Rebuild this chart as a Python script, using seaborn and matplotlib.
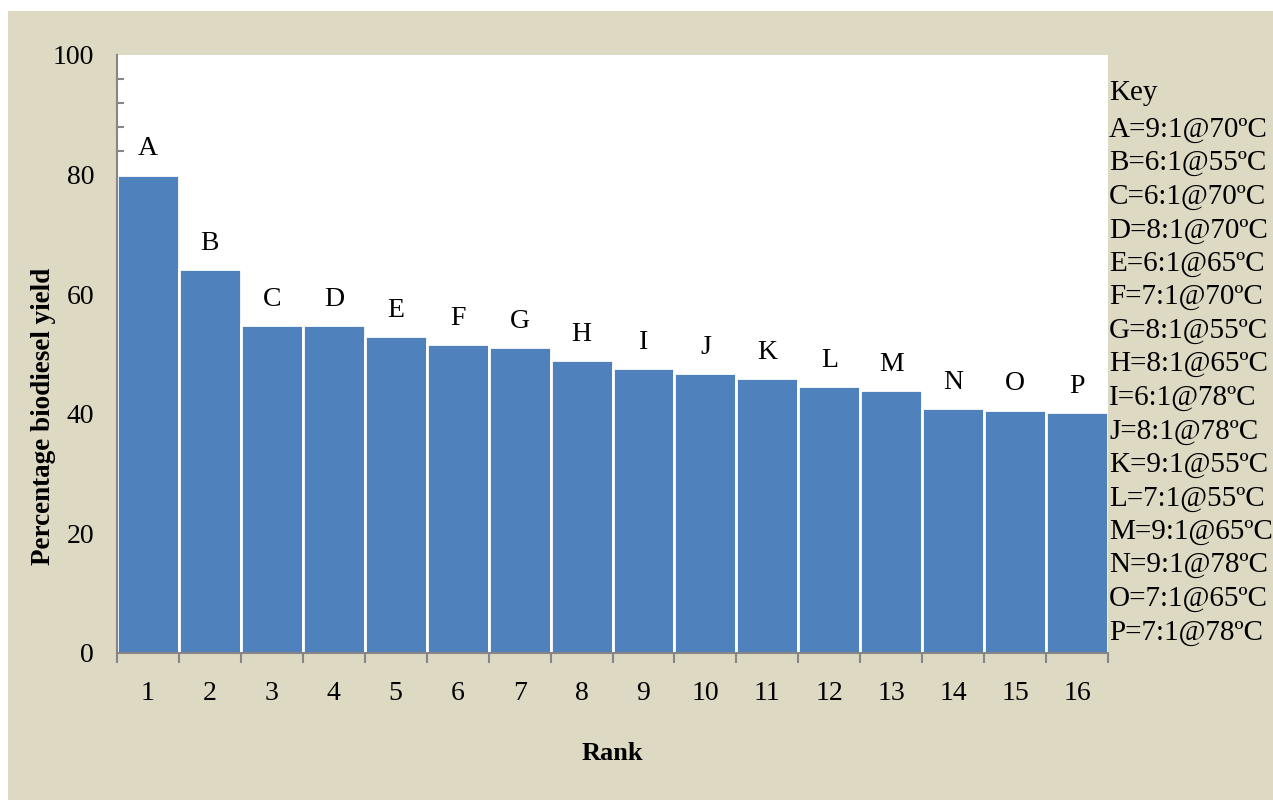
import matplotlib
matplotlib.use("Agg")
import matplotlib.pyplot as plt
from matplotlib.patches import Rectangle
from matplotlib.ticker import MultipleLocator
import seaborn as sns
import pandas as pd

# Ranked biodiesel yields (%) for each oil:methanol ratio / temperature run
ranks = [str(i) for i in range(1, 17)]
letters = list("ABCDEFGHIJKLMNOP")
yields = [80.0, 64.2, 54.8, 54.8, 53.0, 51.7, 51.2, 49.0,
          47.7, 46.8, 46.0, 44.6, 43.9, 41.0, 40.7, 40.3]
conditions = ["9:1@70ºC", "6:1@55ºC", "6:1@70ºC", "8:1@70ºC",
              "6:1@65ºC", "7:1@70ºC", "8:1@55ºC", "8:1@65ºC",
              "6:1@78ºC", "8:1@78ºC", "9:1@55ºC", "7:1@55ºC",
              "9:1@65ºC", "9:1@78ºC", "7:1@65ºC", "7:1@78ºC"]

df = pd.DataFrame({"Rank": ranks, "Yield": yields, "Letter": letters})

sns.set_theme(style="white")
plt.rcParams["font.family"] = ["Liberation Serif", "DejaVu Serif"]
plt.rcParams["text.color"] = "black"
plt.rcParams["axes.labelcolor"] = "black"
plt.rcParams["xtick.labelcolor"] = "black"
plt.rcParams["ytick.labelcolor"] = "black"

BEIGE = "#DDD9C3"
BLUE = "#4F81BD"
AXIS_GRAY = "#868686"

fig = plt.figure(figsize=(12.73, 8.0), dpi=100, facecolor="white")
fig.patches.append(Rectangle((8 / 1273, 0), 1 - 8 / 1273, 1 - 11 / 800,
                             transform=fig.transFigure, facecolor=BEIGE,
                             edgecolor="none", zorder=-10))

ax = fig.add_axes([117 / 1273, 147 / 800, 991 / 1273, 598 / 800])
ax.set_facecolor("white")

sns.barplot(data=df, x="Rank", y="Yield", color=BLUE, width=1.0,
            edgecolor="white", linewidth=2, saturation=1, ax=ax)

# letter code above each bar
for i, (v, lab) in enumerate(zip(yields, letters)):
    ax.text(i, v + 2.2, lab, ha="center", va="bottom", fontsize=20,
            color="black")

ax.set_xlim(-0.5, 15.5)
ax.set_ylim(0, 100)
ax.yaxis.set_major_locator(MultipleLocator(20))
ax.yaxis.set_minor_locator(MultipleLocator(4))
ax.tick_params(axis="y", which="major", direction="inout", length=13,
               width=1.5, color=AXIS_GRAY, labelsize=20, pad=10)
ax.tick_params(axis="y", which="minor", direction="in", length=5,
               width=1.5, color=AXIS_GRAY, left=True)

# x tick marks sit on the bar boundaries, labels at bar centres
ax.set_xticks([i for i in range(16)])
ax.set_xticklabels(ranks)
ax.set_xticks([i - 0.5 for i in range(17)], minor=True)
ax.tick_params(axis="x", which="major", length=0, labelsize=20, pad=20)
ax.tick_params(axis="x", which="minor", direction="out", length=7,
               width=1.5, color=AXIS_GRAY, bottom=True)

for side in ("top", "right"):
    ax.spines[side].set_visible(False)
for side in ("left", "bottom"):
    ax.spines[side].set_color(AXIS_GRAY)
    ax.spines[side].set_linewidth(1.5)

ax.set_xlabel("Rank", fontsize=19, fontweight="bold", labelpad=26)
ax.set_ylabel("Percentage biodiesel yield", fontsize=19.5,
              fontweight="bold")
ax.yaxis.set_label_coords(-0.062, 0.395)

# key listing the conditions behind each letter
fig.text(1109 / 1273, 1 - 93 / 800, "Key", fontsize=21, va="center",
         ha="left")
for j, (lab, cond) in enumerate(zip(letters, conditions)):
    fig.text(1109 / 1273, 1 - (130 + j * 33.5) / 800, f"{lab}={cond}",
             fontsize=21, va="center", ha="left")

fig.savefig("out.png", dpi=100, facecolor=fig.get_facecolor())
